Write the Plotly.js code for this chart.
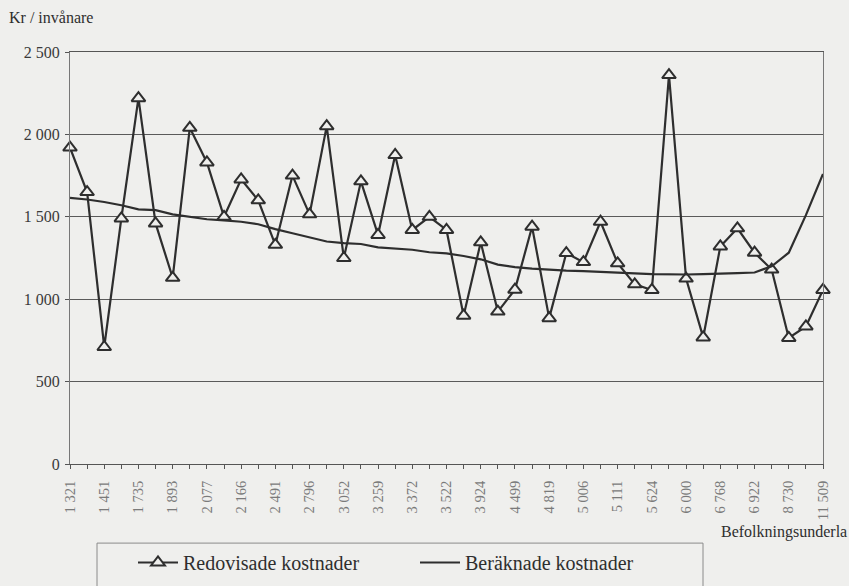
<!DOCTYPE html>
<html>
<head>
<meta charset="utf-8">
<script src="https://cdn.plot.ly/plotly-3.0.1.min.js"></script>
<style>html,body{margin:0;padding:0;background:#efefed;}</style>
</head>
<body>
<div id="chart" style="width:849px;height:586px;"></div>
<script>
// Tick labels shown for every second municipality (population base)
const tickLabels = ["1 321","1 451","1 735","1 893","2 077","2 166","2 491","2 796","3 052","3 259","3 372","3 522","3 924","4 499","4 819","5 006","5 111","5 624","6 000","6 768","6 922","8 730","11 509"];

// Redovisade kostnader (reported costs), kr per inhabitant
const redovisade = [1920,1650,710,1490,2220,1460,1130,2040,1830,1500,1727,1600,1330,1750,1515,2050,1250,1715,1390,1875,1420,1500,1420,900,1345,925,1058,1440,885,1280,1225,1470,1218,1090,1056,2360,1125,768,1320,1430,1282,1180,765,835,1056];

// Beräknade kostnader (estimated costs), kr per inhabitant
const beraknade = [1615,1605,1590,1570,1545,1540,1515,1500,1485,1478,1470,1455,1425,1400,1375,1350,1340,1335,1315,1308,1300,1285,1278,1262,1242,1210,1195,1185,1178,1173,1170,1167,1163,1157,1152,1150,1150,1152,1157,1158,1162,1200,1282,1510,1760];

const yTickVals = [0,500,1000,1500,2000,2500];
const yTickText = ["0","500","1 000","1 500","2 000","2 500"];

const xIdx = redovisade.map((_, i) => i);
const xTickVals = xIdx;
const xTickText = xIdx.map(i => (i % 2 === 0 ? tickLabels[i / 2] : ""));

const bg = "#efefed";
const ink = "#2e2e2e";
const serif = "'Liberation Serif', 'DejaVu Serif', serif";

const traces = [
  {
    x: xIdx, y: redovisade, name: "Redovisade kostnader",
    type: "scatter", mode: "lines+markers",
    line: {color: ink, width: 2.2},
    marker: {symbol: "triangle-up", size: 12, color: bg, line: {color: ink, width: 2}},
    cliponaxis: false
  },
  {
    x: xIdx, y: beraknade, name: "Beräknade kostnader",
    type: "scatter", mode: "lines",
    line: {color: ink, width: 2.2},
    cliponaxis: false
  }
];

const layout = {
  width: 849, height: 586,
  paper_bgcolor: bg, plot_bgcolor: bg,
  margin: {l: 70, r: 26, t: 52, b: 122},
  font: {family: serif, color: ink, size: 12},
  showlegend: true,
  legend: {
    orientation: "h", xref: "container", yref: "container",
    x: 133 / 849, xanchor: "left", y: 1 - 543 / 586, yanchor: "top",
    borderwidth: 0, bgcolor: "rgba(0,0,0,0)",
    font: {family: serif, size: 20, color: ink},
    entrywidth: 227, entrywidthmode: "pixels",
    itemwidth: 40, tracegroupgap: 0
  },
  shapes: [
    {type: "rect", xref: "paper", yref: "paper",
     x0: (97 - 70) / 753, x1: (703 - 70) / 753,
     y0: -0.192, y1: -0.32,
     line: {color: "#8a8a8a", width: 1}, fillcolor: "rgba(0,0,0,0)", layer: "below"}
  ],
  xaxis: {
    range: [0, 44], autorange: false, automargin: false,
    tickmode: "array", tickvals: xTickVals, ticktext: xTickText,
    tickangle: -90, ticks: "outside", ticklen: 4, tickcolor: "#555",
    ticklabelstandoff: 6,
    tickfont: {family: serif, size: 14.5, color: "#7a7a7a"},
    showgrid: false, zeroline: false,
    showline: true, linecolor: "#555", linewidth: 1, mirror: true
  },
  yaxis: {
    range: [0, 2500], autorange: false, automargin: false,
    tickmode: "array", tickvals: yTickVals, ticktext: yTickText,
    ticks: "outside", ticklen: 4, tickcolor: "#555",
    ticklabelstandoff: 2,
    tickfont: {family: serif, size: 16, color: "#3a3a3a"},
    showgrid: true, gridcolor: "#5a5a5a", gridwidth: 1,
    zeroline: false,
    showline: true, linecolor: "#777", linewidth: 1, mirror: true
  },
  annotations: [
    {text: "Kr / invånare", xref: "paper", yref: "paper", x: -0.084, y: 1.083,
     xanchor: "left", yanchor: "middle", showarrow: false,
     font: {family: serif, size: 16, color: ink}},
    {text: "Befolkningsunderla", xref: "paper", yref: "paper", x: (849 - 70) / 753, y: -0.165,
     xanchor: "right", yanchor: "middle", showarrow: false,
     font: {family: serif, size: 16, color: ink}}
  ]
};

Plotly.newPlot("chart", traces, layout, {displayModeBar: false, staticPlot: true});
</script>
</body>
</html>
